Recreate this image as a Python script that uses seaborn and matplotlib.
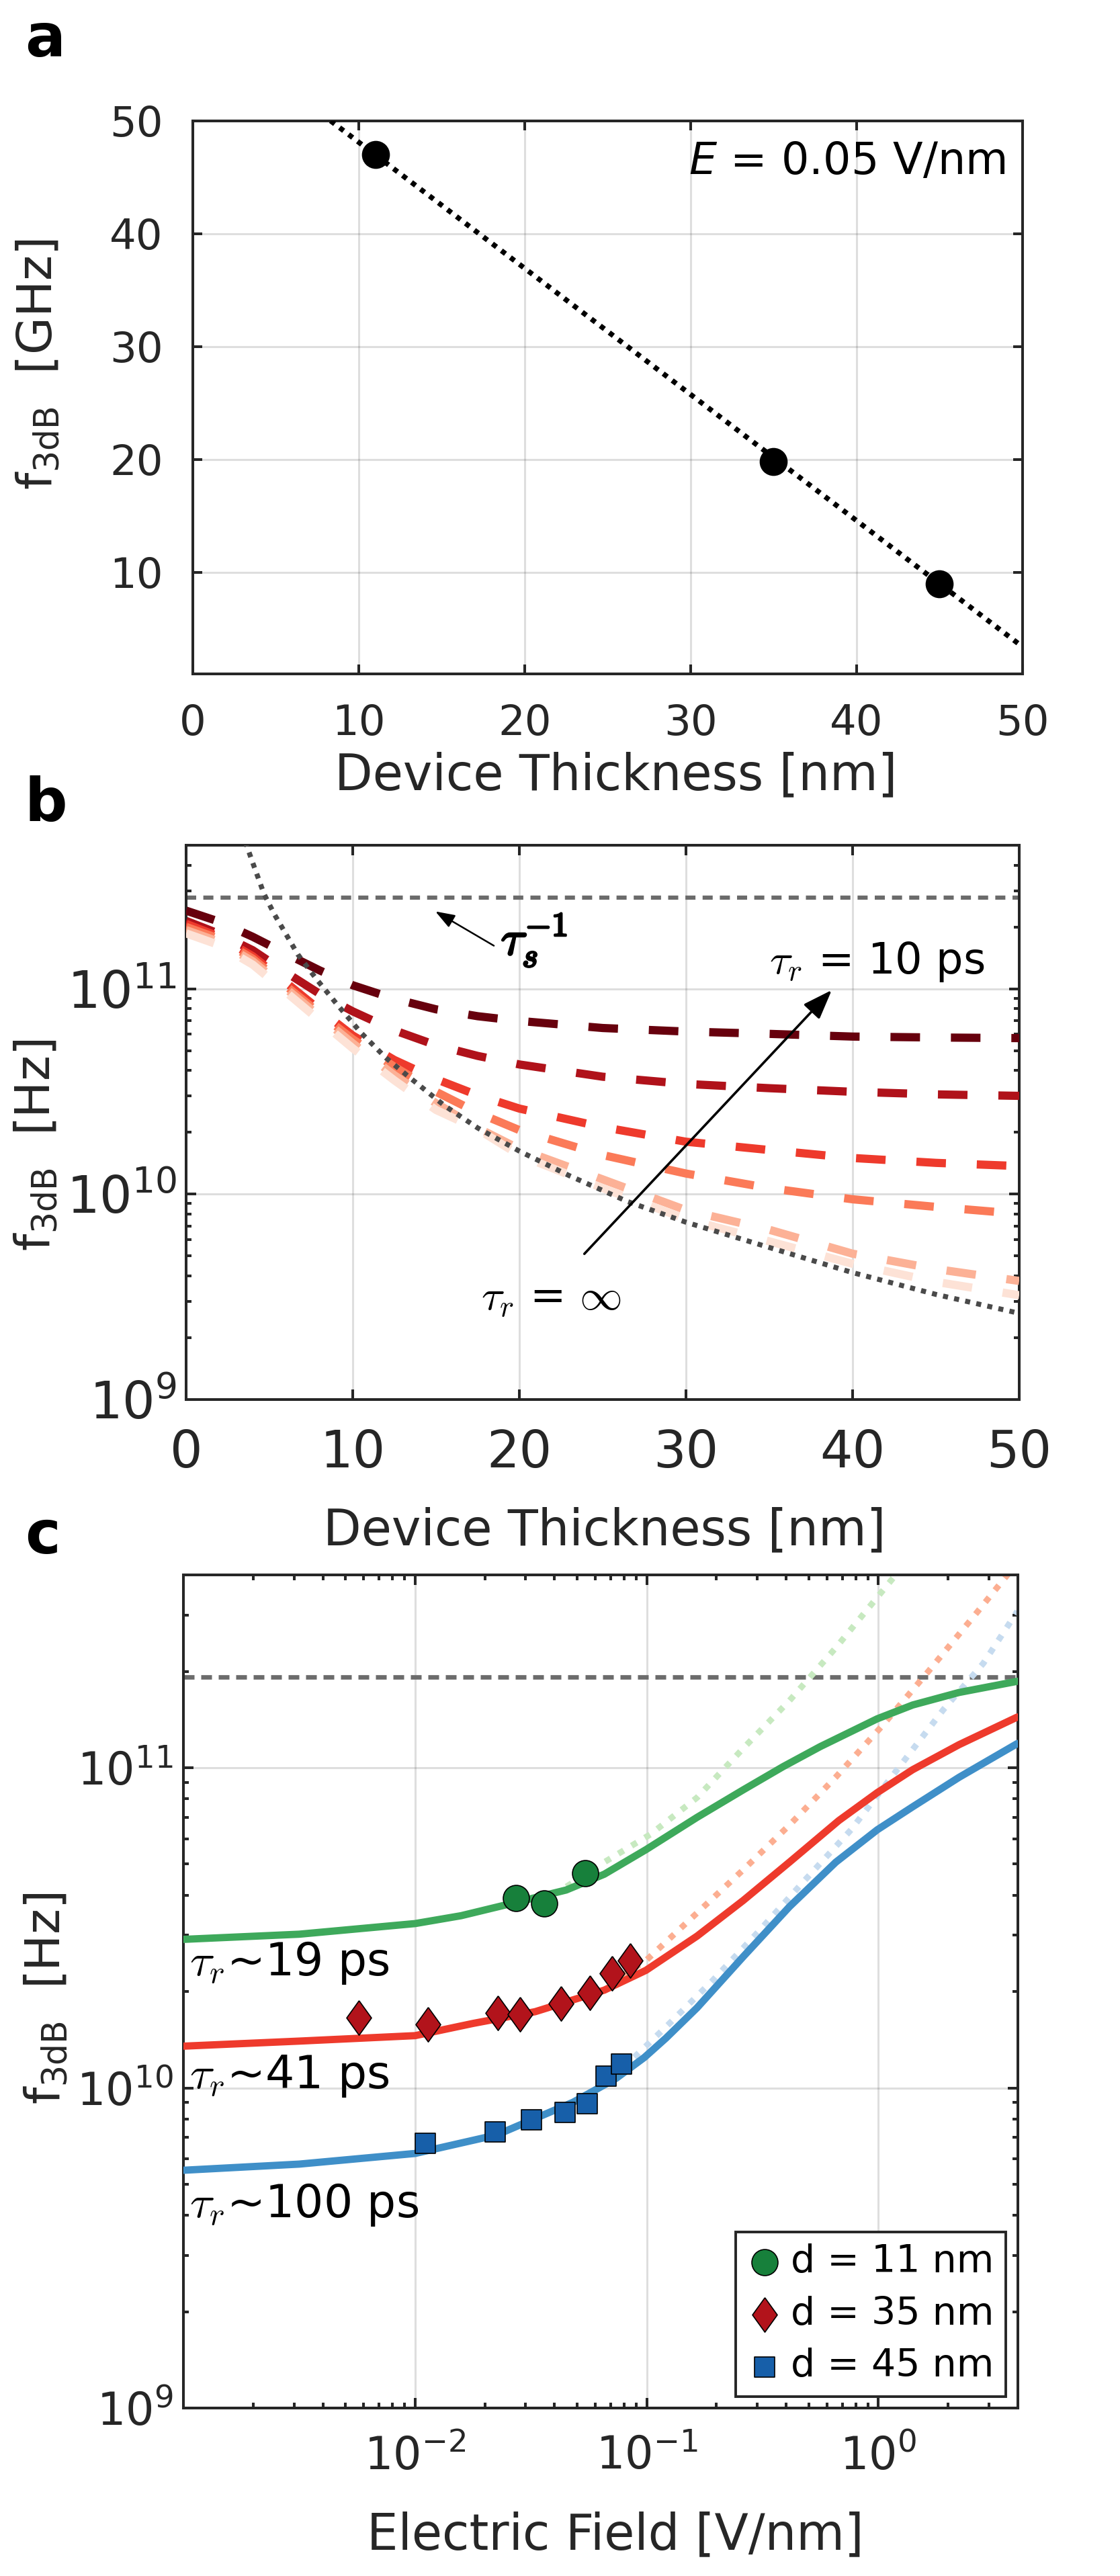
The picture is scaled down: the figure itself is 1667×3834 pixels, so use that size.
import numpy as np
import matplotlib
matplotlib.use("Agg")
import matplotlib.pyplot as plt
import matplotlib.patheffects as pe
import seaborn as sns
from matplotlib.ticker import FixedLocator, LogLocator, NullFormatter, LogFormatterMathtext

# ---------------- Panel a data ----------------
a_thickness = [11, 35, 45]
a_f3db_ghz = [47.0, 19.8, 9.0]
a_fit_thickness = [8.3, 50.0]
a_fit_f3db = [50.0, 3.4]
a_xticks = [0, 10, 20, 30, 40, 50]
a_yticks = [10, 20, 30, 40, 50]

# ---------------- Panel b data ----------------
b_thickness = [0, 2, 4, 6, 8, 10, 12.5, 15, 17.5, 20, 25, 30, 35, 40, 45, 50]
b_tr_curves = [
    [2.40e11, 2.12e11, 1.79e11, 1.48e11, 1.23e11, 1.04e11, 8.93e10, 7.94e10, 7.35e10, 6.97e10, 6.44e10, 6.19e10, 6.03e10, 5.85e10, 5.79e10, 5.75e10],
    [2.14e11, 1.85e11, 1.54e11, 1.20e11, 9.46e10, 7.76e10, 6.27e10, 5.31e10, 4.71e10, 4.28e10, 3.73e10, 3.44e10, 3.28e10, 3.15e10, 3.06e10, 3.01e10],
    [2.07e11, 1.79e11, 1.44e11, 1.07e11, 7.91e10, 5.92e10, 4.50e10, 3.63e10, 3.03e10, 2.61e10, 2.12e10, 1.80e10, 1.64e10, 1.50e10, 1.42e10, 1.37e10],
    [2.00e11, 1.75e11, 1.40e11, 1.03e11, 7.60e10, 5.68e10, 4.17e10, 3.15e10, 2.49e10, 2.05e10, 1.55e10, 1.26e10, 1.07e10, 9.44e9, 8.67e9, 8.02e9],
    [1.93e11, 1.69e11, 1.36e11, 1.00e11, 7.35e10, 5.42e10, 3.79e10, 2.77e10, 2.10e10, 1.66e10, 1.18e10, 8.36e9, 6.71e9, 5.13e9, 4.32e9, 3.78e9],
    [1.86e11, 1.63e11, 1.31e11, 9.62e10, 7.02e10, 5.13e10, 3.58e10, 2.57e10, 2.07e10, 1.55e10, 1.07e10, 7.57e9, 5.89e9, 4.58e9, 3.74e9, 3.22e9],
]
b_tr_colors = ["#67000d", "#b0121a", "#ee3a2c", "#fb7a58", "#fcb196", "#fde2d6"]
b_inf_thickness = [3.55, 4.0, 4.67, 5.3, 5.9, 6.7, 7.8, 9.0, 10.5, 12, 13.5, 15.5, 17.5, 20, 23, 26.5, 30, 35, 40, 45, 50]
b_inf_f = [5.2e11, 4.1e11, 2.9e11, 2.3e11, 1.9e11, 1.47e11, 1.12e11, 8.5e10, 6.1e10, 4.6e10, 3.65e10, 2.7e10, 2.1e10,
           1.62e10, 1.23e10, 9.2e9, 7.3e9, 5.5e9, 4.15e9, 3.25e9, 2.63e9]
b_tau_s_inv = 2.77e11
b_xticks = [0, 10, 20, 30, 40, 50]

# ---------------- Panel c data ----------------
c_fit_E_11 = [0.001, 0.00316, 0.01, 0.0158, 0.0243, 0.0449, 0.0656, 0.0993, 0.165, 0.261, 0.388, 0.561, 0.989, 1.406, 2.228, 3.98]
c_fit_f_11 = [2.91e10, 3.02e10, 3.26e10, 3.45e10, 3.72e10, 4.15e10, 4.65e10, 5.55e10, 7.0e10, 8.53e10, 1.008e11, 1.164e11, 1.422e11, 1.57e11, 1.718e11, 1.862e11]
c_ideal_E_11 = [0.045, 0.0656, 0.104, 0.165, 0.261, 0.413, 0.655, 1.153, 1.26]
c_ideal_f_11 = [4.25e10, 5.07e10, 6.2e10, 8.07e10, 1.15e11, 1.62e11, 2.37e11, 3.9e11, 4.2e11]

c_fit_E_35 = [0.001, 0.00316, 0.01, 0.0178, 0.033, 0.0656, 0.0993, 0.165, 0.261, 0.413, 0.675, 0.989, 1.406, 2.228, 3.98]
c_fit_f_35 = [1.35e10, 1.40e10, 1.456e10, 1.59e10, 1.73e10, 2.02e10, 2.33e10, 2.98e10, 3.85e10, 5.07e10, 6.84e10, 8.36e10, 9.86e10, 1.18e11, 1.44e11]
c_ideal_E_35 = [0.06, 0.0993, 0.165, 0.261, 0.413, 0.655, 1.037, 1.644, 2.6, 3.37, 3.98]
c_ideal_f_35 = [1.98e10, 2.5e10, 3.52e10, 4.8e10, 6.62e10, 9.35e10, 1.35e11, 2.0e11, 2.99e11, 3.77e11, 4.37e11]

c_fit_E_45 = [0.001, 0.00316, 0.01, 0.0225, 0.0481, 0.0736, 0.0977, 0.121, 0.165, 0.261, 0.413, 0.655, 0.989, 1.406, 2.228, 3.98]
c_fit_f_45 = [5.53e9, 5.78e9, 6.24e9, 7.13e9, 9.02e9, 1.07e10, 1.245e10, 1.43e10, 1.78e10, 2.57e10, 3.68e10, 5.07e10, 6.4e10, 7.55e10, 9.33e10, 1.19e11]
c_ideal_E_45 = [0.0708, 0.121, 0.192, 0.304, 0.481, 0.762, 1.205, 1.91, 2.84, 3.98]
c_ideal_f_45 = [1.07e10, 1.55e10, 2.16e10, 3.08e10, 4.45e10, 6.4e10, 9.86e10, 1.52e11, 2.12e11, 3.08e11]

c_meas_E_11 = [0.0272, 0.0361, 0.0542]
c_meas_f_11 = [3.92e10, 3.76e10, 4.68e10]
c_meas_E_35 = [0.0057, 0.0114, 0.0228, 0.0283, 0.0426, 0.0567, 0.071, 0.085]
c_meas_f_35 = [1.66e10, 1.58e10, 1.71e10, 1.70e10, 1.83e10, 1.98e10, 2.28e10, 2.5e10]
c_meas_E_45 = [0.0111, 0.0222, 0.0317, 0.0443, 0.0553, 0.0665, 0.0776]
c_meas_f_45 = [6.7e9, 7.27e9, 7.95e9, 8.37e9, 8.93e9, 1.09e10, 1.19e10]
c_tau_s_inv = 1.92e11
c_labels = ["d = 11 nm", "d = 35 nm", "d = 45 nm"]
c_tr_labels = [r"$\tau_r$~19 ps", r"$\tau_r$~41 ps", r"$\tau_r$~100 ps"]

# ---------------- style ----------------
sns.set_theme(style="white")
plt.rcParams["font.family"] = ["DejaVu Sans"]
plt.rcParams["mathtext.fontset"] = "dejavusans"
INK = "#262626"

fig = plt.figure(figsize=(16.67, 38.34), dpi=100)
fig.patch.set_facecolor("white")


def style_axes(ax, labelsize, xpad, ypad, major_len, minor_len):
    ax.set_facecolor("white")
    ax.tick_params(which="both", direction="in", top=True, right=True, bottom=True, left=True,
                   colors=INK, width=2.9)
    ax.tick_params(which="major", length=major_len, labelsize=labelsize)
    ax.tick_params(axis="x", which="major", pad=xpad)
    ax.tick_params(axis="y", which="major", pad=ypad)
    ax.tick_params(which="minor", length=minor_len)
    for s in ax.spines.values():
        s.set_linewidth(2.9)
        s.set_color(INK)
        s.set_visible(True)
    ax.grid(True, which="major", color=INK, alpha=0.15, lw=2.2)
    ax.grid(False, which="minor")
    ax.set_axisbelow(True)


bold_fx = [pe.withStroke(linewidth=2.2, foreground="black")]

# ---------------- Panel a ----------------
axa = fig.add_axes([0.1722, 0.7384, 0.7408, 0.2147])
sns.lineplot(x=a_fit_thickness, y=a_fit_f3db, ax=axa, color="black", lw=5.5,
             linestyle=(0, (1.0, 1.2)), zorder=3)
sns.scatterplot(x=a_thickness, y=a_f3db_ghz, ax=axa, color="black", s=30 ** 2, edgecolor="black",
                linewidth=0, zorder=4, legend=False)
axa.set_xlim(0, 50)
axa.set_ylim(1, 50)
axa.xaxis.set_major_locator(FixedLocator(a_xticks))
axa.yaxis.set_major_locator(FixedLocator(a_yticks))
style_axes(axa, 45, 32, 32, 10, 5)
axa.text(48.95, 45.3, r"$\it{E}$ = 0.05 V/nm", ha="right", va="baseline", fontsize=47, color="black")
axa.set_xlabel("Device Thickness [nm]", fontsize=53, color=INK)
axa.set_ylabel(r"f$_{\mathregular{3dB}}$  [GHz]", fontsize=52, color=INK)
axa.xaxis.set_label_coords(0.51, -0.1397)
axa.yaxis.set_label_coords(-0.158, 0.56)

# ---------------- Panel b ----------------
axb = fig.add_axes([0.1662, 0.4567, 0.7438, 0.2152])
axb.set_yscale("log")
axb.axhline(b_tau_s_inv, color="#6b6b6b", lw=4.5, linestyle=(0, (2.4, 1.7)), zorder=2)
for vals, col in zip(b_tr_curves, b_tr_colors):
    sns.lineplot(x=b_thickness, y=vals, ax=axb, color=col, lw=8.8, linestyle=(0, (3.6, 3.76)), zorder=3)
sns.lineplot(x=b_inf_thickness, y=b_inf_f, ax=axb, color="#4a4a4a", lw=5.4, linestyle=(0, (1.0, 1.25)), zorder=4)
axb.set_xlim(0, 50)
axb.set_ylim(1e9, 5e11)
axb.xaxis.set_major_locator(FixedLocator(b_xticks))
axb.yaxis.set_major_locator(FixedLocator([1e9, 1e10, 1e11]))
axb.yaxis.set_major_formatter(LogFormatterMathtext())
axb.yaxis.set_minor_locator(LogLocator(base=10, subs=np.arange(2, 10), numticks=100))
axb.yaxis.set_minor_formatter(NullFormatter())
style_axes(axb, 55, 31, 10, 11, 6)
axb.set_xlabel("Device Thickness [nm]", fontsize=53, color=INK)
axb.set_ylabel(r"f$_{\mathregular{3dB}}$  [Hz]", fontsize=52, color=INK)
axb.xaxis.set_label_coords(0.502, -0.1927)
axb.yaxis.set_label_coords(-0.152, 0.459)
axb.annotate("", xy=(38.75, 9.85e10), xytext=(23.9, 5.12e9),
             arrowprops=dict(arrowstyle="-|>,head_length=0.6,head_width=0.22", color="black", lw=2.6,
                             mutation_scale=45, shrinkA=0, shrinkB=0), zorder=6)
axb.annotate("", xy=(14.96, 2.38e11), xytext=(18.47, 1.62e11),
             arrowprops=dict(arrowstyle="-|>,head_length=0.5,head_width=0.18", color="black", lw=1.8,
                             mutation_scale=35, shrinkA=0, shrinkB=0), zorder=6)
axb.text(18.9, 1.47e11, r"$\tau_s^{-1}$", fontsize=52, color="black", ha="left", va="baseline",
         math_fontfamily="cm", zorder=6, path_effects=bold_fx)
axb.text(35.0, 1.19e11, r"$\tau_r$ = 10 ps", fontsize=46, color="black", ha="left", va="baseline",
         math_fontfamily="cm", zorder=6)
axb.text(17.7, 2.72e9, r"$\tau_r$ = $\infty$", fontsize=46, color="black", ha="left", va="baseline",
         math_fontfamily="cm", zorder=6)

# ---------------- Panel c ----------------
axc = fig.add_axes([0.1638, 0.0652, 0.745, 0.3234])
axc.set_xscale("log")
axc.set_yscale("log")
axc.axhline(c_tau_s_inv, color="#6b6b6b", lw=4.8, linestyle=(0, (2.4, 1.5)), zorder=2)
ideal = [(c_ideal_E_11, c_ideal_f_11, "#c7e9c0"), (c_ideal_E_35, c_ideal_f_35, "#fcae91"),
         (c_ideal_E_45, c_ideal_f_45, "#c6dbef")]
for E, f, col in ideal:
    sns.lineplot(x=E, y=f, ax=axc, color=col, lw=6.6, linestyle=(0, (1.0, 1.5)), zorder=2.5)
fits = [(c_fit_E_11, c_fit_f_11, "#3ea95b"), (c_fit_E_35, c_fit_f_35, "#ee3a2c"),
        (c_fit_E_45, c_fit_f_45, "#3f8fc8")]
for E, f, col in fits:
    sns.lineplot(x=E, y=f, ax=axc, color=col, lw=7.8, zorder=3)
diamond = [(0, 1), (0.72, 0), (0, -1), (-0.72, 0), (0, 1)]
sns.scatterplot(x=c_meas_E_11, y=c_meas_f_11, ax=axc, marker="o", s=28 ** 2, color="#17803b",
                edgecolor="black", linewidth=1.2, label=c_labels[0], zorder=5)
sns.scatterplot(x=c_meas_E_35, y=c_meas_f_35, ax=axc, marker=diamond, s=37 ** 2, color="#b2131b",
                edgecolor="black", linewidth=1.2, label=c_labels[1], zorder=5)
sns.scatterplot(x=c_meas_E_45, y=c_meas_f_45, ax=axc, marker="s", s=22 ** 2, color="#175fa9",
                edgecolor="black", linewidth=1.2, label=c_labels[2], zorder=5)
axc.set_xlim(1e-3, 4)
axc.set_ylim(1e9, 4e11)
axc.xaxis.set_major_locator(FixedLocator([1e-2, 1e-1, 1e0]))
axc.xaxis.set_major_formatter(LogFormatterMathtext())
axc.xaxis.set_minor_locator(LogLocator(base=10, subs=np.arange(2, 10), numticks=100))
axc.xaxis.set_minor_formatter(NullFormatter())
axc.yaxis.set_major_locator(FixedLocator([1e9, 1e10, 1e11]))
axc.yaxis.set_major_formatter(LogFormatterMathtext())
axc.yaxis.set_minor_locator(LogLocator(base=10, subs=np.arange(2, 10), numticks=100))
axc.yaxis.set_minor_formatter(NullFormatter())
style_axes(axc, 48, 28, 11, 11, 6)
axc.set_xlabel("Electric Field [V/nm]", fontsize=53, color=INK)
axc.set_ylabel(r"f$_{\mathregular{3dB}}$  [Hz]", fontsize=52, color=INK)
axc.xaxis.set_label_coords(0.518, -0.1234)
axc.yaxis.set_label_coords(-0.136, 0.492)
for lab, yv in zip(c_tr_labels, [2.25e10, 1.0e10, 3.94e9]):
    axc.text(0.00106, yv, lab, fontsize=49, color="black", ha="left", va="baseline",
             math_fontfamily="cm", zorder=6)
leg = axc.legend(loc="lower right", bbox_to_anchor=(0.9855, 0.0141), fontsize=41, frameon=True,
                 fancybox=False, framealpha=1, edgecolor=INK, borderaxespad=0, borderpad=0.3,
                 labelspacing=0.4, handlelength=0.9, handletextpad=0.25)
leg.get_frame().set_linewidth(2.8)
for t in leg.get_texts():
    t.set_color("black")

# ---------------- panel letters ----------------
for letter, yy in zip(["a", "b", "c"], [0.97809, 0.68127, 0.39697]):
    fig.text(0.022, yy, letter, fontsize=64, fontweight="bold", color="black", va="baseline", ha="left")

fig.savefig("out.png", dpi=100, facecolor="white")
